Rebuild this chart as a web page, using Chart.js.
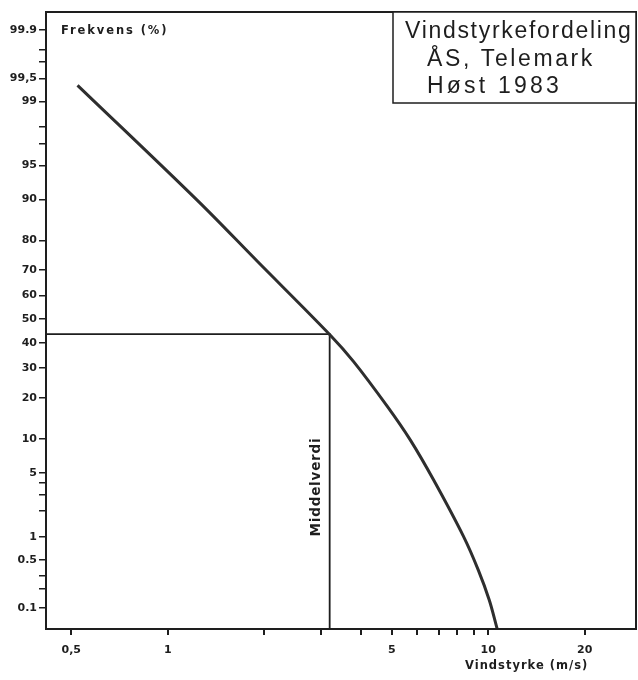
<!DOCTYPE html>
<html>
<head>
<meta charset="utf-8">
<script src="https://cdn.jsdelivr.net/npm/chart.js@4.4.1/dist/chart.umd.min.js"></script>
<style>
  body { margin: 0; background: #fff; }
  canvas { display: block; }
</style>
</head>
<body>
<canvas id="Mychart" width="638" height="680"></canvas>
<script>
// vindstyrke (m/s) og frekvens (%) lest av kurven
const speed = [0.523, 1.237, 1.903, 3.21, 3.806, 4.836, 5.715, 6.754, 8.376, 9.31, 10.07, 10.65];
const freq = [99.38, 89.8, 73.2, 43.3, 32.4, 17.6, 9.78, 4.26, 1.0, 0.363, 0.133, 0.047];

// middelverdi
const meanSpeed = 3.2;
const meanFreq = 43.6;

// akser
const xMin = 0.417, xMax = 28.9;
const yMin = 0.046, yMax = 99.949;
const xTicks = [0.5, 1, 2, 3, 4, 5, 6, 7, 8, 9, 10, 20];
const xLabelled = [0.5, 1, 5, 10, 20];
const yTicks = [99.9, 99.8, 99.7, 99.5, 99, 98, 97, 95, 90, 80, 70, 60, 50, 40, 30, 20, 10, 5, 4, 3, 2, 1, 0.5, 0.3, 0.2, 0.1];
const yLabels = {99.9: '99.9', 99.5: '99,5', 99: '99', 95: '95', 90: '90', 80: '80', 70: '70', 60: '60', 50: '50',
  40: '40', 30: '30', 20: '20', 10: '10', 5: '5', 1: '1', 0.5: '0.5', 0.1: '0.1'};

// invers normalfordeling (Acklam)
function probit(p) {
  const a = [-39.69683028665376, 220.9460984245205, -275.9285104469687, 138.3577518672690, -30.66479806614716, 2.506628277459239];
  const b = [-54.47609879822406, 161.5858368580409, -155.6989798598866, 66.80131188771972, -13.28068155288572];
  const c = [-0.007784894002430293, -0.3223964580411365, -2.400758277161838, -2.549732539343734, 4.374664141464968, 2.938163982698783];
  const d = [0.007784695709041462, 0.3224671290700398, 2.445134137142996, 3.754408661907416];
  const pl = 0.02425;
  let q, r;
  if (p < pl) {
    q = Math.sqrt(-2 * Math.log(p));
    return (((((c[0]*q+c[1])*q+c[2])*q+c[3])*q+c[4])*q+c[5]) / ((((d[0]*q+d[1])*q+d[2])*q+d[3])*q+1);
  }
  if (p > 1 - pl) {
    q = Math.sqrt(-2 * Math.log(1 - p));
    return -(((((c[0]*q+c[1])*q+c[2])*q+c[3])*q+c[4])*q+c[5]) / ((((d[0]*q+d[1])*q+d[2])*q+d[3])*q+1);
  }
  q = p - 0.5;
  r = q * q;
  return (((((a[0]*r+a[1])*r+a[2])*r+a[3])*r+a[4])*r+a[5])*q / (((((b[0]*r+b[1])*r+b[2])*r+b[3])*r+b[4])*r+1);
}

function normCdf(z) {
  const t = 1 / (1 + 0.2316419 * Math.abs(z));
  const y = 0.3989423 * Math.exp(-z * z / 2) * t * (0.3193815 + t * (-0.3565638 + t * (1.781478 + t * (-1.821256 + t * 1.330274))));
  return z > 0 ? 1 - y : y;
}

// sannsynlighetsakse
class ProbitScale extends Chart.Scale {
  determineDataLimits() {
    this.min = this.options.min;
    this.max = this.options.max;
  }
  buildTicks() {
    return yTicks.map(v => ({ value: v }));
  }
  getLabelForValue(v) {
    return String(v);
  }
  configure() {
    super.configure();
    this._zLow = probit(this.min / 100);
    this._zHigh = probit(this.max / 100);
  }
  getPixelForValue(v) {
    const z = probit(v / 100);
    return this.getPixelForDecimal((z - this._zLow) / (this._zHigh - this._zLow));
  }
  getValueForPixel(px) {
    const dec = this.getDecimalForPixel(px);
    return 100 * normCdf(this._zLow + dec * (this._zHigh - this._zLow));
  }
}
ProbitScale.id = 'probit';
ProbitScale.defaults = {};
Chart.register(ProbitScale);

const ink = '#1e1e1e';

const framePlugin = {
  id: 'frame',
  afterDraw(chart) {
    const ctx = chart.ctx;
    const a = chart.chartArea;
    ctx.save();
    ctx.strokeStyle = ink;
    ctx.lineWidth = 2;
    ctx.strokeRect(a.left, a.top, a.right - a.left, a.bottom - a.top);

    // tittelboks
    ctx.fillStyle = '#fff';
    ctx.lineWidth = 1.5;
    ctx.fillRect(393, a.top, a.right - 393, 91);
    ctx.strokeRect(393, a.top, a.right - 393, 91);
    ctx.fillStyle = ink;
    ctx.font = '23px "Liberation Sans", Arial, sans-serif';
    ctx.textBaseline = 'alphabetic';
    ctx.textAlign = 'left';
    ctx.letterSpacing = '1.7px';
    ctx.fillText('Vindstyrkefordeling', 405, 38);
    ctx.letterSpacing = '2.6px';
    ctx.fillText('ÅS, Telemark', 427, 66);
    ctx.letterSpacing = '3.2px';
    ctx.fillText('Høst 1983', 427, 93);

    ctx.font = 'bold 11.5px "DejaVu Sans", sans-serif';
    ctx.letterSpacing = '1.9px';
    ctx.textBaseline = 'middle';
    ctx.fillText('Frekvens (%)', 61, 31);
    ctx.letterSpacing = '1px';
    ctx.fillText('Vindstyrke (m/s)', 465, 666);

    ctx.translate(316, 487);
    ctx.rotate(-Math.PI / 2);
    ctx.textAlign = 'center';
    ctx.font = 'bold 13.5px "DejaVu Sans", sans-serif';
    ctx.letterSpacing = '0.8px';
    ctx.fillText('Middelverdi', 0, 0);
    ctx.restore();
  }
};

new Chart(document.getElementById('Mychart'), {
  type: 'line',
  data: {
    datasets: [{
      label: 'Vindstyrkefordeling',
      data: speed.map((s, i) => ({ x: s, y: freq[i] })),
      borderColor: '#2e2e2e',
      borderWidth: 3,
      pointRadius: 0,
      tension: 0.35,
      fill: false
    }, {
      label: 'Middelverdi',
      data: [{ x: xMin, y: meanFreq }, { x: meanSpeed, y: meanFreq }, { x: meanSpeed, y: yMin }],
      borderColor: ink,
      borderWidth: 1.8,
      pointRadius: 0,
      tension: 0,
      fill: false
    }]
  },
  options: {
    responsive: false,
    animation: false,
    layout: { padding: { top: 12, right: 2, left: 0, bottom: 0 } },
    plugins: {
      legend: { display: false },
      tooltip: { enabled: false },
      title: { display: false }
    },
    scales: {
      x: {
        type: 'logarithmic',
        min: xMin,
        max: xMax,
        afterBuildTicks: scale => { scale.ticks = xTicks.map(v => ({ value: v })); },
        afterFit: scale => { scale.height = 51; },
        grid: { drawOnChartArea: false, drawTicks: true, tickLength: 6, color: ink, lineWidth: 2 },
        border: { display: false },
        ticks: {
          autoSkip: false,
          maxRotation: 0,
          padding: 9,
          color: ink,
          font: { family: '"DejaVu Sans", sans-serif', size: 11, weight: 'bold' },
          callback: v => xLabelled.includes(v) ? String(v).replace('.', ',') : ''
        }
      },
      y: {
        type: 'probit',
        position: 'left',
        min: yMin,
        max: yMax,
        afterFit: scale => { scale.width = 46; },
        grid: { drawOnChartArea: false, drawTicks: true, tickLength: 7, color: ink, lineWidth: 1.5 },
        border: { display: false },
        ticks: {
          autoSkip: false,
          padding: 2,
          color: ink,
          font: { family: '"DejaVu Sans", sans-serif', size: 11, weight: 'bold' },
          callback: v => yLabels[v] || ''
        }
      }
    }
  },
  plugins: [framePlugin]
});
</script>
</body>
</html>
